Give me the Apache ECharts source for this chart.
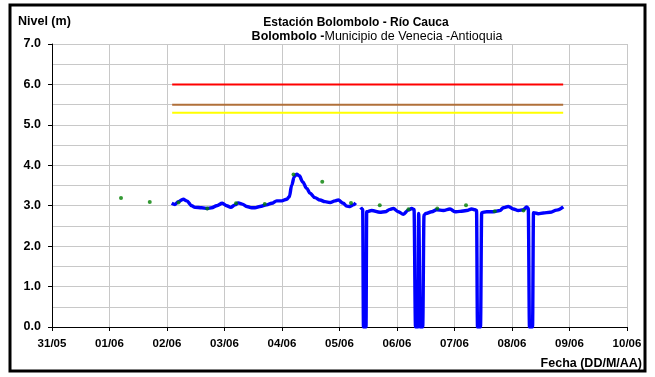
<!DOCTYPE html>
<html><head><meta charset="utf-8">
<script src="https://cdn.jsdelivr.net/npm/echarts@6/dist/echarts.min.js"></script>
<style>html,body{margin:0;padding:0;background:#fff}#c{width:655px;height:377px}</style>
</head><body><div id="c"></div>
<script>
// x values are days after 31/05 00:00
const xTickLabels = ['31/05','01/06','02/06','03/06','04/06','05/06','06/06','07/06','08/06','09/06','10/06'];
const levelDays = [2.082,2.139,2.197,2.283,2.343,2.430,2.487,2.603,2.701,2.777,2.864,2.962,3.038,3.108,3.183,3.240,3.310,3.386,3.473,3.530,3.617,3.734,3.821,3.908,3.995,4.082,4.127,4.169,4.214,4.256,4.301,4.360,4.430,4.487,4.574,4.661,4.748,4.835,4.922,4.979,5.066,5.125,5.183,5.240,5.282,5.320,5.369,5.403,5.417,5.461,5.473,5.560,5.704,5.791,5.878,5.936,6.023,6.110,6.197,6.256,6.296,6.322,6.365,6.377,6.405,6.447,6.470,6.504,6.603,6.690,6.805,6.922,7.009,7.096,7.212,7.299,7.357,7.383,7.400,7.452,7.473,7.560,7.675,7.791,7.849,7.936,8.023,8.110,8.197,8.256,8.283,8.304,8.357,8.374,8.457,8.544,8.661,8.777,8.892];
const levelValues = [3.06,3.03,3.10,3.16,3.12,3.00,2.96,2.95,2.93,2.95,3.00,3.06,3.00,2.96,3.02,3.07,3.04,2.98,2.95,2.95,2.98,3.02,3.06,3.12,3.12,3.16,3.22,3.51,3.72,3.78,3.74,3.59,3.43,3.31,3.20,3.14,3.10,3.08,3.12,3.14,3.06,2.99,2.98,3.02,3.07,null,2.96,2.91,0,0,2.85,2.88,2.84,2.85,2.91,2.93,2.85,2.79,2.89,2.93,2.91,0,0,2.81,0,0,2.77,2.81,2.85,2.90,2.88,2.92,2.85,2.86,2.88,2.92,2.90,2.88,0,0,2.83,2.85,2.85,2.88,2.95,2.98,2.92,2.88,2.90,2.97,2.93,0,0,2.83,2.80,2.82,2.84,2.89,2.97];
const manualDays = [1.2,1.7,2.2,2.7,3.2,3.7,4.2,4.7,5.2,5.7,6.2,6.7,7.2,7.7,8.2];
const manualValues = [3.19,3.09,3.08,2.93,3.06,3.04,3.77,3.59,3.07,3.01,2.91,2.93,3.01,2.86,2.88];
const thresholdDays = [2.09, 8.89];
const redLevel = 6.0, brownLevel = 5.5, yellowLevel = 5.3;

const chart = echarts.init(document.getElementById('c'));
const font = 'Liberation Sans, Arial, sans-serif';
const pair = (xs, ys) => xs.map((x, i) => [x, ys[i]]);
const hline = (v, color, name) => ({
  type: 'line', name, data: thresholdDays.map(d => [d, v]), symbol: 'none',
  lineStyle: { color, width: 2 }, silent: true, z: 3
});
chart.setOption({
  animation: false,
  backgroundColor: '#fff',
  grid: { left: 52, right: 28, top: 44, bottom: 50 },
  xAxis: {
    type: 'value', min: 0, max: 10, interval: 1,
    axisLine: { lineStyle: { color: '#000', width: 1 } },
    axisTick: { show: true, length: 4, lineStyle: { color: '#000' } },
    axisLabel: { color: '#000', fontFamily: font, fontWeight: 'bold', fontSize: 11.5, margin: 11,
      formatter: v => xTickLabels[Math.round(v)] || '' },
    splitLine: { show: true, lineStyle: { color: '#c8c8c8', width: 1 } }
  },
  yAxis: {
    type: 'value', min: 0, max: 7, interval: 1,
    axisLine: { show: true, lineStyle: { color: '#000', width: 1 } },
    axisTick: { show: true, length: 4, lineStyle: { color: '#000' } },
    axisLabel: { color: '#000', fontFamily: font, fontWeight: 'bold', fontSize: 12.5, margin: 11,
      formatter: v => v.toFixed(1) },
    splitLine: { show: true, lineStyle: { color: '#c8c8c8', width: 1 } },
    minorTick: { show: false, splitNumber: 2 },
    minorSplitLine: { show: true, lineStyle: { color: '#c8c8c8', width: 1 } }
  },
  series: [
    hline(redLevel, '#ff0000', 'Rojo'),
    hline(brownLevel, '#b0703a', 'Naranja'),
    hline(yellowLevel, '#ffff00', 'Amarillo'),
    { type: 'line', name: 'Nivel', data: pair(levelDays, levelValues), symbol: 'none',
      smooth: 0.35, smoothMonotone: 'x',
      connectNulls: false, lineStyle: { color: '#0000ff', width: 3.4 }, z: 4 },
    { type: 'scatter', name: 'Lectura', data: pair(manualDays, manualValues), symbol: 'circle',
      symbolSize: 4, itemStyle: { color: '#008000' }, z: 5 }
  ],
  graphic: [
    { type: 'rect', shape: { x: 10, y: 5, width: 635, height: 366 }, style: { fill: 'none', stroke: '#000', lineWidth: 3 }, z: 10 },
    { type: 'text', x: 18, y: 15, style: { text: 'Nivel (m)', font: 'bold 12.5px ' + font, fill: '#000' } },
    { type: 'text', x: 356, y: 17, style: { text: 'Estación Bolombolo - Río Cauca', font: 'bold 12px ' + font, fill: '#000', align: 'center' } },
    { type: 'text', x: 377, y: 30, style: { text: '{b|Bolombolo -}{n|Municipio de Venecia -Antioquia}', align: 'center',
        rich: { b: { font: 'bold 12.5px ' + font, fill: '#000' }, n: { font: '12.5px ' + font, fill: '#000' } } } },
    { type: 'text', x: 642, y: 357, style: { text: 'Fecha (DD/M/AA)', font: 'bold 12.5px ' + font, fill: '#000', align: 'right' } }
  ]
});
</script></body></html>
